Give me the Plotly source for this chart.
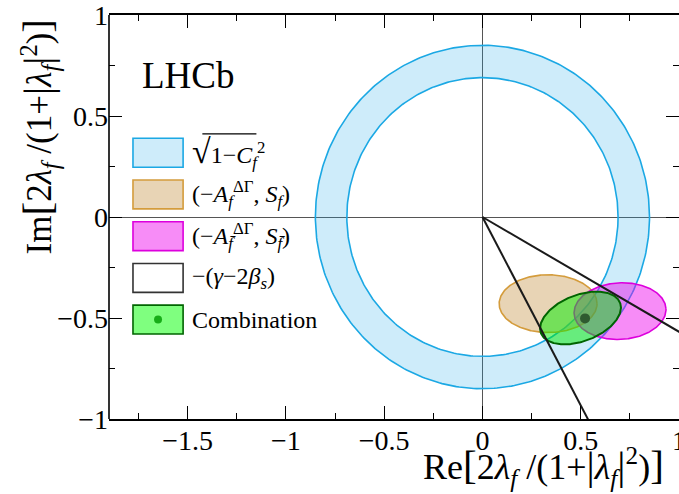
import numpy as np
import plotly.graph_objects as go

# ---------------- data ----------------
ring_r_inner = 0.69
ring_r_outer = 0.85

ell_names = ["(-A_f, S_f)", "(-A_fbar, S_fbar)", "Combination"]
ell_cx = [0.334, 0.700, 0.499]
ell_cy = [-0.429, -0.466, -0.500]
ell_a = [0.249, 0.234, 0.215]
ell_b = [0.143, 0.140, 0.115]
ell_angle_deg = [0.0, 3.0, 20.0]

comb_x = [0.522]
comb_y = [-0.502]

phase_line_angles_deg = [-61.8, -29.6]

xtick_vals = [-1.5, -1.0, -0.5, 0.0, 0.5, 1.0]
xtick_text = ["\u22121.5", "\u22121", "\u22120.5", "0", "0.5", "1"]
ytick_vals = [-1.0, -0.5, 0.0, 0.5, 1.0]
ytick_text = ["\u22121", "\u22120.5", "0", "0.5", "1"]

legend_labels = [
    "<span style='font-size:34px'>\u221a</span>1\u2212<i>C</i><sub><i>f</i></sub><sup>2</sup>",
    "(\u2212<i>A</i><sub><i>f</i></sub><sup>\u0394\u0393</sup>, <i>S</i><sub><i>f</i></sub>)",
    "(\u2212<i>A</i><sub><i>f\u0304</i></sub><sup>\u0394\u0393</sup>, <i>S</i><sub><i>f\u0304</i></sub>)",
    "\u2212(<i>\u03b3</i>\u22122<i>\u03b2</i><sub><i>s</i></sub>)",
    "Combination",
]

# ---------------- styles ----------------
FONT = "Liberation Serif, Times New Roman, serif"
RING_FILL = "rgba(30,170,230,0.22)"
RING_LINE = "#1ba8e4"
ELL_FILL = ["rgba(205,160,90,0.45)", "rgba(238,0,238,0.45)", "rgba(0,235,0,0.5)"]
ELL_LINE = ["#d49c3c", "#dd00dd", "#006400"]
LEG_FILL = ["rgba(30,170,230,0.22)", "rgba(205,160,90,0.45)", "rgba(238,0,238,0.45)",
            "rgba(255,255,255,0)", "rgba(0,255,0,0.5)"]
LEG_LINE = [RING_LINE, ELL_LINE[0], ELL_LINE[1], "#333333", ELL_LINE[2]]

fig = go.Figure()

# ring (annulus)
t = np.linspace(0, 2 * np.pi, 361)
rx = np.concatenate([ring_r_outer * np.cos(t), ring_r_inner * np.cos(t[::-1])])
ry = np.concatenate([ring_r_outer * np.sin(t), ring_r_inner * np.sin(t[::-1])])
fig.add_trace(go.Scatter(x=rx, y=ry, mode="none", fill="toself", fillcolor=RING_FILL,
                         hoverinfo="skip", showlegend=False))
for r in (ring_r_outer, ring_r_inner):
    fig.add_trace(go.Scatter(x=r * np.cos(t), y=r * np.sin(t), mode="lines",
                             line=dict(color=RING_LINE, width=1.6),
                             hoverinfo="skip", showlegend=False))

# ellipses
for i in range(3):
    th = np.deg2rad(ell_angle_deg[i])
    ex = ell_a[i] * np.cos(t)
    ey = ell_b[i] * np.sin(t)
    x = ell_cx[i] + ex * np.cos(th) - ey * np.sin(th)
    y = ell_cy[i] + ex * np.sin(th) + ey * np.cos(th)
    fig.add_trace(go.Scatter(x=x, y=y, mode="lines", fill="toself",
                             fillcolor=ELL_FILL[i],
                             line=dict(color=ELL_LINE[i], width=2 if i == 2 else 1.6),
                             name=ell_names[i], hoverinfo="skip", showlegend=False))

# -(gamma - 2 beta_s) lines
for ang in phase_line_angles_deg:
    a = np.deg2rad(ang)
    fig.add_trace(go.Scatter(x=[0, 3 * np.cos(a)], y=[0, 3 * np.sin(a)], mode="lines",
                             line=dict(color="#1a1a1a", width=2),
                             hoverinfo="skip", showlegend=False))

# combination point
fig.add_trace(go.Scatter(x=comb_x, y=comb_y, mode="markers",
                         marker=dict(color="#2f5a30", size=10),
                         hoverinfo="skip", showlegend=False))

# ---------------- manual legend ----------------
LEG_X0, LEG_X1 = -1.778, -1.523
LEG_TOP, LEG_STEP, LEG_HALF = 0.318, 0.2065, 0.0715
LEG_TEXT_X = -1.487
shapes = []
annotations = []
for i, lab in enumerate(legend_labels):
    yc = LEG_TOP - i * LEG_STEP
    shapes.append(dict(type="rect", xref="x", yref="y", x0=LEG_X0, x1=LEG_X1,
                       y0=yc - LEG_HALF, y1=yc + LEG_HALF, fillcolor=LEG_FILL[i],
                       line=dict(color=LEG_LINE[i], width=1.6), layer="above"))
    annotations.append(dict(x=LEG_TEXT_X, y=yc, xref="x", yref="y", text=lab,
                            showarrow=False, xanchor="left", yanchor="middle",
                            font=dict(family=FONT, size=24, color="black")))
# dot in combination legend box
yc_last = LEG_TOP - 4 * LEG_STEP
fig.add_trace(go.Scatter(x=[(LEG_X0 + LEG_X1) / 2], y=[yc_last], mode="markers",
                         marker=dict(color="#2f5a30", size=8),
                         hoverinfo="skip", showlegend=False))
# sqrt vinculum
shapes.append(dict(type="line", xref="x", yref="y", x0=-1.425, x1=-1.15, y0=0.412, y1=0.412,
                   line=dict(color="black", width=1.3)))

# left axis line (y axis uses mirrored ticks only)
shapes.append(dict(type="line", xref="paper", yref="paper", x0=0, x1=0, y0=0, y1=1,
                   line=dict(color="black", width=1.6), layer="above"))

# LHCb label
annotations.append(dict(x=-1.742, y=0.70, xref="x", yref="y", text="LHCb", showarrow=False,
                        xanchor="left", yanchor="middle",
                        font=dict(family=FONT, size=37, color="black")))

BR = "<span style='font-size:41px'>%s</span>"
title_body = ("2<i>\u03bb</i><sub><i>f</i></sub> /(1+" + BR % "|" +
              "<i>\u03bb</i><sub><i>f</i></sub>" + BR % "|" + "<sup>2</sup>)")
xtitle = "Re" + BR % "[" + title_body + BR % "]"
ytitle = "Im" + BR % "[" + title_body + BR % "]"
annotations.append(dict(x=0.978, y=-0.185, xref="paper", yref="paper", text=xtitle,
                        showarrow=False, xanchor="right", yanchor="bottom",
                        font=dict(family=FONT, size=36, color="black")))
annotations.append(dict(x=-0.123, y=0.995, xref="paper", yref="paper", text=ytitle,
                        showarrow=False, xanchor="center", yanchor="top", textangle=-90,
                        font=dict(family=FONT, size=35, color="black")))

axis_common = dict(ticks="inside", ticklen=13, tickwidth=1.2, tickcolor="black",
                   showgrid=False, zeroline=True, zerolinecolor="#555555", zerolinewidth=1,
                   ticklabeloverflow="allow",
                   tickfont=dict(family=FONT, size=28, color="black"),
                   minor=dict(ticks="inside", ticklen=6, tickwidth=1.2, tickcolor="black",
                              dtick=0.25, showgrid=False))

# the figure is a few px wider than the window so the right frame edge
# falls just outside the visible area, as in the reference
fig.update_layout(
    width=686, height=494, autosize=False,
    margin=dict(l=109, r=0, t=13, b=75),
    plot_bgcolor="white", paper_bgcolor="white",
    shapes=shapes, annotations=annotations,
    xaxis=dict(range=[-1.9, 1.0], tickvals=xtick_vals, ticktext=xtick_text,
               showline=True, linecolor="black", linewidth=1.6, mirror="ticks",
               ticklabelstandoff=-4, **axis_common),
    yaxis=dict(range=[-1.0, 1.0], tickvals=ytick_vals, ticktext=ytick_text,
               showline=False, mirror="ticks", **axis_common),
)

fig.write_html(
    "out.html",
    config={"displayModeBar": False, "responsive": False},
    post_script="document.body.style.margin='0px';document.body.style.overflow='hidden';",
)
